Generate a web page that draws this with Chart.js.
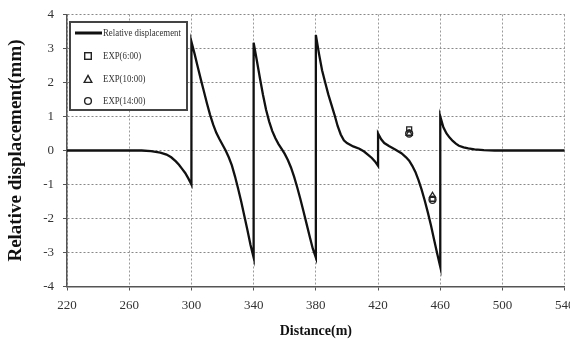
<!DOCTYPE html>
<html>
<head>
<meta charset="utf-8">
<script src="https://cdn.jsdelivr.net/npm/chart.js@4"></script>
<style>
  body { margin: 0; background: #fff; }
</style>
</head>
<body>
<canvas id="chart" width="570" height="340"></canvas>
<script>
// Datos
const distance = [
  220, 260, 268, 274, 280, 284, 287, 290, 292, 294, 296, 298, 300,
  300, 302, 304, 306, 308, 310, 312, 314, 316, 318, 320, 322, 324, 326, 328, 330, 332, 334, 336, 338, 340,
  340, 342, 344, 346, 348, 350, 352, 354, 356, 358, 360, 362, 364, 366, 368, 370, 372, 374, 376, 378, 380,
  380, 382, 384, 386, 388, 390, 392, 394, 396, 398, 400, 404, 408, 411, 414, 416, 418, 420,
  420, 422, 424, 427, 431, 435, 438, 440, 442, 444, 446, 448, 450, 452, 454, 456, 458, 460,
  460, 462, 464, 466, 468, 470, 472, 475, 478, 482, 488, 495, 540
];
const displacement = [
  0, 0, 0, -0.02, -0.06, -0.12, -0.2, -0.32, -0.42, -0.54, -0.66, -0.82, -1.0,
  3.2, 2.85, 2.47, 2.1, 1.74, 1.38, 1.05, 0.76, 0.52, 0.34, 0.17, 0.0, -0.2, -0.44, -0.76, -1.12, -1.5, -1.92, -2.34, -2.78, -3.15,
  3.17, 2.66, 2.14, 1.64, 1.2, 0.85, 0.57, 0.36, 0.19, 0.05, -0.1, -0.28, -0.5, -0.77, -1.08, -1.42, -1.78, -2.15, -2.52, -2.88, -3.15,
  3.4, 2.85, 2.36, 2.0, 1.65, 1.35, 1.05, 0.72, 0.47, 0.3, 0.22, 0.12, 0.05, -0.03, -0.14, -0.22, -0.32, -0.45,
  0.5, 0.33, 0.22, 0.13, 0.03, -0.08, -0.2, -0.3, -0.45, -0.63, -0.87, -1.15, -1.47, -1.82, -2.2, -2.62, -3.03, -3.42,
  1.0, 0.68, 0.5, 0.38, 0.28, 0.2, 0.14, 0.09, 0.06, 0.03, 0.01, 0, 0
];

const expDistance = [440, 455];
const exp6 = [0.62, -1.42];
const exp10 = [0.5, -1.33];
const exp14 = [0.5, -1.45];

const xTicks = [220, 260, 300, 340, 380, 420, 460, 500, 540];
const yTicks = [-4, -3, -2, -1, 0, 1, 2, 3, 4];

const legendLabels = ['Relative displacement', 'EXP(6:00)', 'EXP(10:00)', 'EXP(14:00)'];

const serif = '"Liberation Serif", "Times New Roman", serif';

function pts(xs, ys) {
  return xs.map((x, i) => ({ x: x, y: ys[i] }));
}

function expSet(label, ys, style) {
  return {
    label: label,
    data: pts(expDistance, ys),
    showLine: false,
    pointStyle: style,
    pointRadius: 3.5,
    pointBorderWidth: 1.3,
    pointBorderColor: '#222',
    pointBackgroundColor: 'rgba(255,255,255,0)'
  };
}

// Leyenda en recuadro dentro del área del gráfico
const boxedLegend = {
  id: 'boxedLegend',
  afterDraw(chart) {
    const ctx = chart.ctx;
    const rowY = [33, 56, 79, 101];
    ctx.save();
    ctx.fillStyle = '#fff';
    ctx.fillRect(70, 22, 117, 88);
    ctx.strokeStyle = '#444';
    ctx.lineWidth = 2;
    ctx.strokeRect(70, 22, 117, 88);

    ctx.fillStyle = '#111';
    ctx.fillRect(75, rowY[0] - 1.5, 27, 3);

    ctx.strokeStyle = '#222';
    ctx.lineWidth = 1.4;
    ctx.strokeRect(84.7, rowY[1] - 3.3, 6.6, 6.6);
    ctx.beginPath();
    ctx.moveTo(88, rowY[2] - 3.6);
    ctx.lineTo(91.8, rowY[2] + 3.4);
    ctx.lineTo(84.2, rowY[2] + 3.4);
    ctx.closePath();
    ctx.stroke();
    ctx.beginPath();
    ctx.arc(88, rowY[3], 3.4, 0, Math.PI * 2);
    ctx.stroke();

    ctx.fillStyle = '#333';
    ctx.font = '11px ' + serif;
    ctx.textBaseline = 'middle';
    legendLabels.forEach((t, i) => {
      ctx.save();
      ctx.translate(103, rowY[i]);
      ctx.scale(0.8, 1);
      ctx.fillText(t, 0, 0);
      ctx.restore();
    });
    ctx.restore();
  }
};

new Chart(document.getElementById('chart'), {
  type: 'line',
  data: {
    datasets: [
      {
        label: legendLabels[0],
        data: pts(distance, displacement),
        borderColor: '#111',
        borderWidth: 2.3,
        pointRadius: 0,
        tension: 0,
        fill: false
      },
      expSet(legendLabels[1], exp6, 'rect'),
      expSet(legendLabels[2], exp10, 'triangle'),
      expSet(legendLabels[3], exp14, 'circle')
    ]
  },
  options: {
    responsive: false,
    animation: false,
    layout: { padding: { top: 14.5, right: 3, left: 0, bottom: 0 } },
    plugins: { legend: { display: false }, tooltip: { enabled: false } },
    scales: {
      x: {
        type: 'linear',
        min: 220,
        max: 540,
        afterBuildTicks: s => { s.ticks = xTicks.map(v => ({ value: v })); },
        afterFit: s => { s.height = 53.5; s.paddingLeft = 0; s.paddingRight = 0; },
        ticks: { color: '#333', font: { family: serif, size: 13 }, padding: 7, maxRotation: 0, autoSkip: false },
        grid: { color: '#9a9a9a', lineWidth: 1, tickLength: 4, tickColor: '#555' },
        border: { color: '#555', width: 1.5, dash: [2, 2] },
        title: { display: true, text: 'Distance(m)', color: '#111',
          font: { family: serif, size: 14, weight: 'bold' }, padding: { top: 4, bottom: 0 } }
      },
      y: {
        min: -4,
        max: 4,
        afterBuildTicks: s => { s.ticks = yTicks.map(v => ({ value: v })); },
        afterFit: s => { s.width = 67; s.paddingTop = 0; s.paddingBottom = 0; },
        ticks: { color: '#333', font: { family: serif, size: 13 }, padding: 9 },
        grid: { color: '#888', lineWidth: 1, tickLength: 4, tickColor: '#555' },
        border: { color: '#555', width: 1.5, dash: [2, 2] },
        title: { display: true, text: 'Relative displacement(mm)', color: '#111',
          font: { family: serif, size: 19, weight: 'bold' }, padding: { top: 4.5, bottom: 0 } }
      }
    }
  },
  plugins: [boxedLegend]
});
</script>
</body>
</html>
